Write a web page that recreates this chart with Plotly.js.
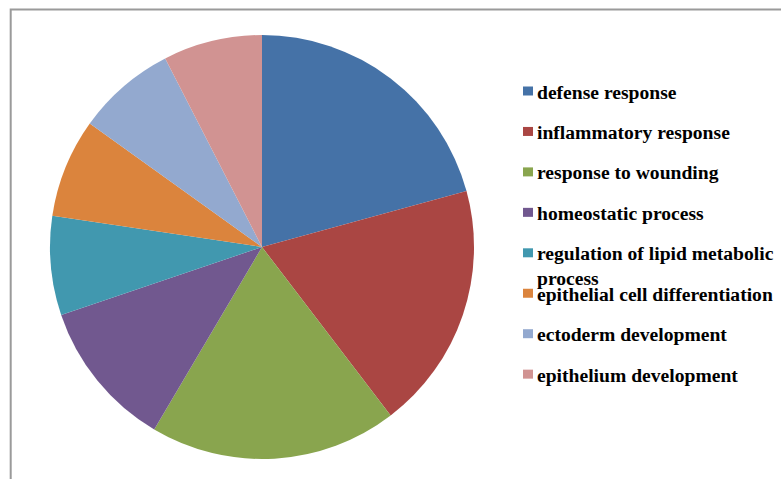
<!DOCTYPE html>
<html>
<head>
<meta charset="utf-8">
<script src="https://cdn.plot.ly/plotly-3.0.1.min.js"></script>
<style>
  html, body { margin: 0; padding: 0; background: #ffffff; }
  #chart { width: 781px; height: 479px; }
</style>
</head>
<body>
<div id="chart"></div>
<script>
// GO biological process terms and their gene counts
const categories = [
  "defense response",
  "inflammatory response",
  "response to wounding",
  "homeostatic process",
  "regulation of lipid metabolic process",
  "epithelial cell differentiation",
  "ectoderm development",
  "epithelium development"
];
const counts = [11, 10, 10, 6, 4, 4, 4, 4];
const colors = [
  "#4572A7", "#AA4643", "#89A54E", "#71588F",
  "#4198AF", "#DB843D", "#93A9CF", "#D19392"
];

const W = 781, H = 479;
const px = x => x / W;
const py = y => 1 - y / H;

// Break long legend entries onto two lines
function wrap(label, maxLen) {
  if (label.length <= maxLen) return label;
  const cut = label.lastIndexOf(" ", maxLen);
  return label.slice(0, cut) + "<br>" + label.slice(cut + 1);
}

const pie = {
  type: "pie",
  labels: categories,
  values: counts,
  sort: false,
  direction: "clockwise",
  rotation: 0,
  textinfo: "none",
  hoverinfo: "label+value+percent",
  marker: { colors: colors, line: { width: 0 } },
  domain: { x: [px(50), px(474)], y: [py(459), py(35)] },
  showlegend: false
};

// Legend drawn as a column of swatches and labels with a fixed slot height
const legendTop = 79.5;
const slotH = 40.45;
const legendFont = { family: "Liberation Serif, Times New Roman, serif", size: 19.6, color: "#000000" };

const annotations = categories.map((c, i) => ({
  xref: "paper", yref: "paper",
  x: px(535), y: py(legendTop + i * slotH),
  xanchor: "left", yanchor: "top",
  align: "left",
  showarrow: false,
  text: "<b>" + wrap(c, 32) + "</b>",
  font: legendFont
}));

const swatches = colors.map((col, i) => {
  const cy = legendTop + i * slotH + 11.5;
  return {
    type: "rect", xref: "paper", yref: "paper",
    x0: px(523), x1: px(533), y0: py(cy - 4.5), y1: py(cy + 4.5),
    fillcolor: col, line: { width: 0 }
  };
});

// Chart-area frame, running off the right and bottom edges
const frame = {
  type: "rect", xref: "paper", yref: "paper",
  x0: px(10.7), y0: py(9.5), x1: px(W + 20), y1: py(H + 20),
  line: { color: "#9a9a9a", width: 2 }, fillcolor: "rgba(0,0,0,0)"
};

const layout = {
  width: W, height: H,
  margin: { l: 0, r: 0, t: 0, b: 0 },
  paper_bgcolor: "#ffffff",
  plot_bgcolor: "#ffffff",
  showlegend: false,
  shapes: [frame].concat(swatches),
  annotations: annotations
};

Plotly.newPlot("chart", [pie], layout, { displayModeBar: false, staticPlot: true });
</script>
</body>
</html>
